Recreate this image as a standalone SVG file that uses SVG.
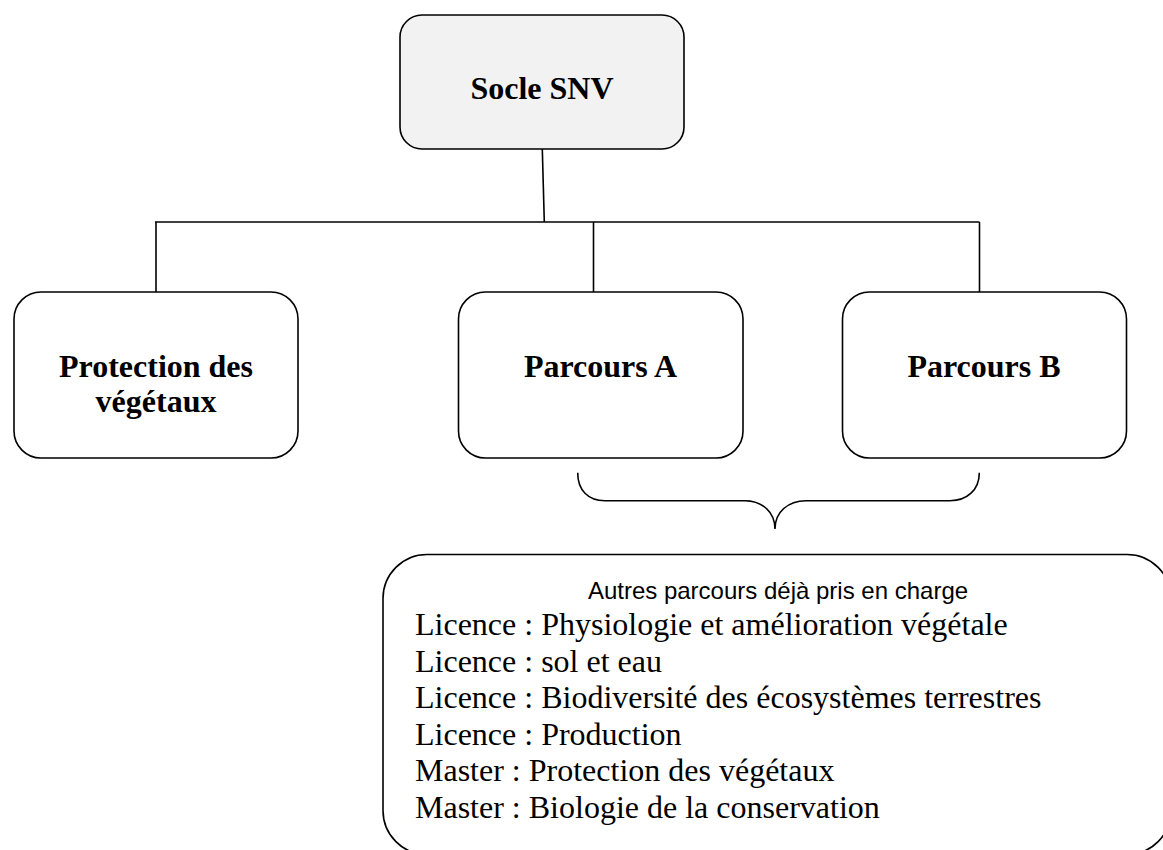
<svg xmlns="http://www.w3.org/2000/svg" width="1163" height="850" viewBox="0 0 1163 850">
<style>
.box{fill:#ffffff;stroke:#000;stroke-width:1.6}
.line{fill:none;stroke:#000;stroke-width:1.6}
.bold{font-family:"Liberation Serif",serif;font-weight:bold;font-size:32px;fill:#000;text-anchor:middle}
.serif{font-family:"Liberation Serif",serif;font-size:32px;fill:#000}
.sans{font-family:"Liberation Sans",sans-serif;font-size:24px;fill:#000;text-anchor:middle}
</style>
<rect width="1163" height="850" fill="#ffffff"/>
<g id="connectors">
<path class="line" d="M542.3,149 L544.3,222"/>
<path class="line" d="M155,222 L979.5,222"/>
<path class="line" d="M156,222 L156,292"/>
<path class="line" d="M593.5,222 L593.5,292"/>
<path class="line" d="M979.5,222 L979.5,292"/>
<path class="line" d="M577.7,472.7 C577.7,490 588,500.7 605,500.7 L745,500.7 C762,500.7 775,512 775,529 C775,512 788,500.7 806,500.7 L950,500.7 C967,500.7 979.3,490 979.3,472.7"/>
</g>
<g id="socle">
<rect class="box" x="400" y="15" width="284" height="134" rx="22" ry="22" style="fill:#f2f2f2"/>
<text class="bold" x="542" y="99">Socle SNV</text>
</g>
<g id="protection">
<rect class="box" x="14" y="292" width="284" height="166" rx="27" ry="27"/>
<text class="bold" x="156" y="377">Protection des</text>
<text class="bold" x="156" y="412">végétaux</text>
</g>
<g id="parcoursA">
<rect class="box" x="458.5" y="292" width="284.5" height="166" rx="27" ry="27"/>
<text class="bold" x="600.5" y="377">Parcours A</text>
</g>
<g id="parcoursB">
<rect class="box" x="842.5" y="292" width="284" height="166" rx="27" ry="27"/>
<text class="bold" x="984" y="377">Parcours B</text>
</g>
<g id="autres">
<rect class="box" x="383" y="554.5" width="788" height="300" rx="44" ry="44"/>
<text class="sans" x="778" y="599">Autres parcours déjà pris en charge</text>
<text class="serif" x="415" y="635">Licence : Physiologie et amélioration végétale</text>
<text class="serif" x="415" y="671.5">Licence : sol et eau</text>
<text class="serif" x="415" y="708">Licence : Biodiversité des écosystèmes terrestres</text>
<text class="serif" x="415" y="744.5">Licence : Production</text>
<text class="serif" x="415" y="781">Master : Protection des végétaux</text>
<text class="serif" x="415" y="817.5">Master : Biologie de la conservation</text>
</g>
</svg>
